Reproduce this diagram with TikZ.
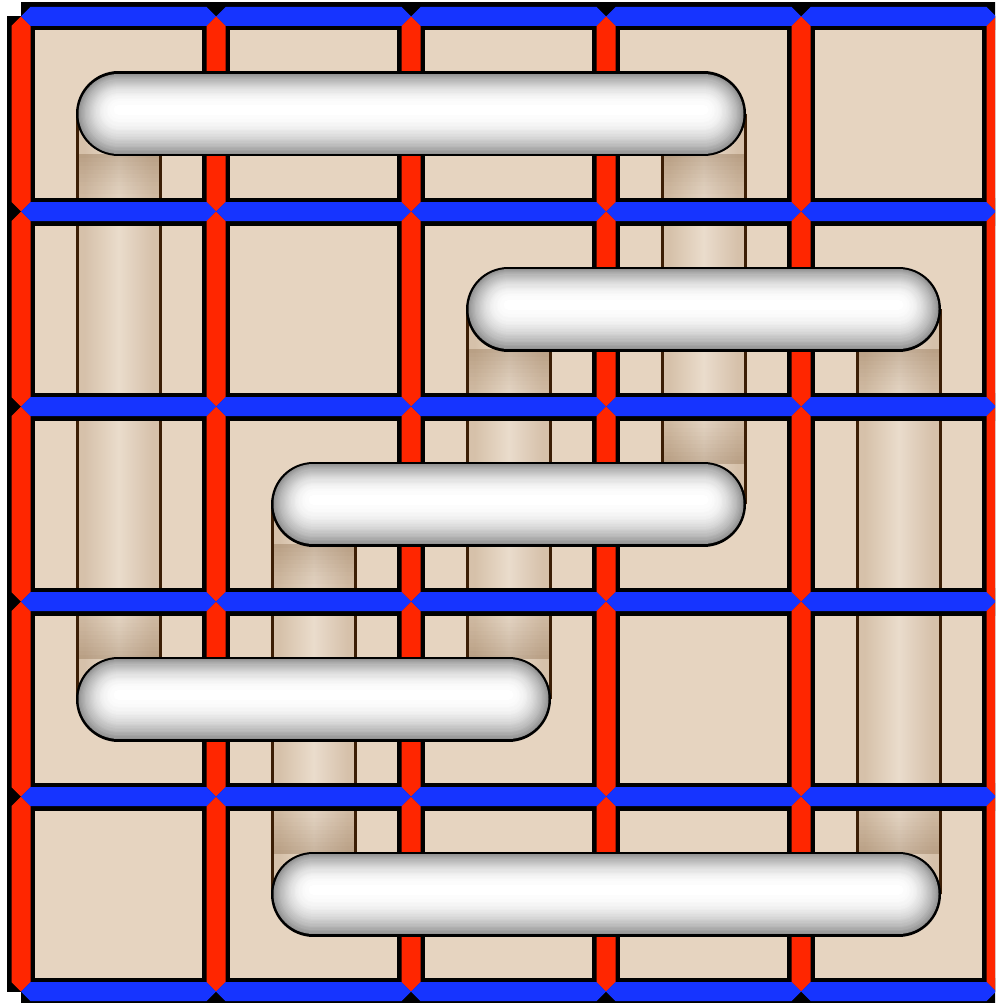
\documentclass[tikz,border=0pt]{standalone}
\definecolor{cellbg}{RGB}{230,212,192}
\definecolor{barred}{RGB}{255,38,0}
\definecolor{barblue}{RGB}{22,52,255}
\definecolor{stripedge}{RGB}{60,30,5}
\definecolor{stripdark}{RGB}{214,193,170}
\definecolor{striplight}{RGB}{234,220,204}
\definecolor{shadowc}{RGB}{120,85,50}
\tikzset{
  gridblack/.style={black, line width=28pt, line cap=square},
  stripline/.style={stripedge, line width=3pt},
  pilloutline/.style={black, line width=85pt, line cap=round}
}
\begin{document}
\begin{tikzpicture}[x=1pt,y=-1pt]
\useasboundingbox (0,0) rectangle (995,1003);
\fill[white] (0,0) rectangle (995,1003);
\clip (0,0) rectangle (995,1003);
% cells background
\fill[cellbg] (21,16.5) rectangle (996,991.5);
% vertical strips (passing under)
\foreach \c/\a/\b in {0/0/3, 1/2/4, 2/1/3, 3/0/2, 4/1/4}{
  \pgfmathsetmacro\xc{118.5+195*\c}
  \pgfmathsetmacro\ya{114+195*\a}
  \pgfmathsetmacro\yb{114+195*\b}
  \fill[stripdark] (\xc-41,\ya) rectangle (\xc+41,\yb);
  \shade[left color=stripdark, right color=stripdark, middle color=striplight]
    (\xc-34,\ya) rectangle (\xc+34,\yb);
  \foreach \s in {0,...,15}{
    \pgfmathsetmacro\op{0.3*(1-\s/16)^1.5}
    \fill[shadowc, opacity=\op] (\xc-41,{\ya+40+4*\s}) rectangle (\xc+41,{\ya+44+4*\s});
    \fill[shadowc, opacity=\op] (\xc-41,{\yb-44-4*\s}) rectangle (\xc+41,{\yb-40-4*\s});
  }
  \draw[stripline] (\xc-41.5,\ya) -- (\xc-41.5,\yb);
  \draw[stripline] (\xc+41.5,\ya) -- (\xc+41.5,\yb);
}
% black grid borders
\foreach \k in {0,...,5}{
  \draw[gridblack] ({21+195*\k},16.5) -- ({21+195*\k},991.5);
  \draw[gridblack] (21,{16.5+195*\k}) -- (996,{16.5+195*\k});
}
% red vertical and blue horizontal bar segments
\foreach \k in {0,...,5}{
  \foreach \i in {0,...,4}{
    \pgfmathsetmacro\X{21+195*\k}
    \pgfmathsetmacro\Ya{16.5+195*\i}
    \pgfmathsetmacro\Yb{16.5+195*(\i+1)}
    \fill[barred] (\X,\Ya) -- (\X+9.5,\Ya+9.5) -- (\X+9.5,\Yb-9.5) -- (\X,\Yb)
      -- (\X-9.5,\Yb-9.5) -- (\X-9.5,\Ya+9.5) -- cycle;
    \pgfmathsetmacro\Y{16.5+195*\k}
    \pgfmathsetmacro\Xa{21+195*\i}
    \pgfmathsetmacro\Xb{21+195*(\i+1)}
    \fill[barblue] (\Xa,\Y) -- (\Xa+9.5,\Y-9.5) -- (\Xb-9.5,\Y-9.5) -- (\Xb,\Y)
      -- (\Xb-9.5,\Y+9.5) -- (\Xa+9.5,\Y+9.5) -- cycle;
  }
}
% horizontal pills (passing over)
\foreach \r/\ca/\cb in {0/0/3, 1/2/4, 2/1/3, 3/0/2, 4/1/4}{
  \pgfmathsetmacro\yc{114+195*\r}
  \pgfmathsetmacro\xa{118.5+195*\ca}
  \pgfmathsetmacro\xb{118.5+195*\cb}
  \coordinate (pa\r) at (\xa,\yc);
  \coordinate (pb\r) at (\xb,\yc);
  \draw[pilloutline] (pa\r) -- (pb\r);
  \foreach \s in {0,...,31}{
    \pgfmathsetmacro\w{80*(1-\s/32)}
    \pgfmathtruncatemacro\g{round(42*(1-\s/32)^2.3)}
    \pgfmathsetmacro\dy{-5*\s/32}
    \draw[black!\g!white, line width=\w pt, line cap=round]
      ([yshift=-\dy pt]pa\r) -- ([yshift=-\dy pt]pb\r);
  }
}
\end{tikzpicture}
\end{document}
